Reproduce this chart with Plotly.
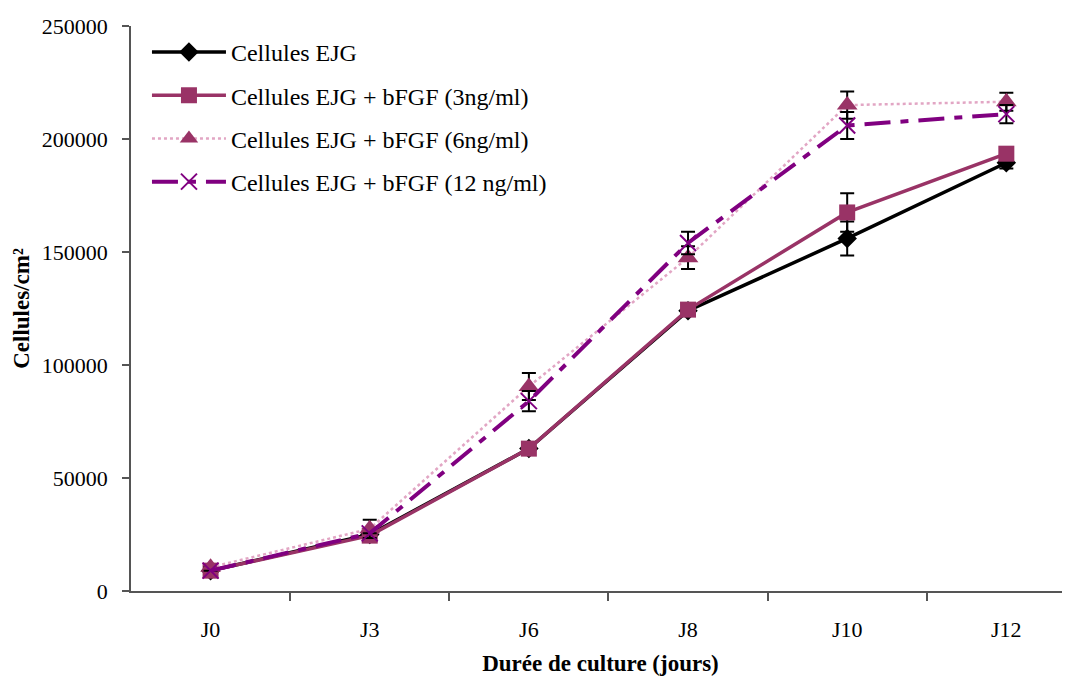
import plotly.graph_objects as go

categories = ["J0", "J3", "J6", "J8", "J10", "J12"]
ejg = [9000, 25000, 63000, 124000, 156000, 189500]
ejg_err = [0, 0, 0, 0, 7500, 2500]
fgf3 = [9000, 24500, 63000, 124500, 167500, 193500]
fgf3_err = [0, 0, 0, 0, 8500, 0]
fgf6 = [10500, 27500, 90500, 147500, 215000, 216500]
fgf6_err = [0, 4000, 6000, 5000, 6000, 4000]
fgf12 = [9000, 25500, 84000, 154000, 206000, 211000]
fgf12_err = [0, 0, 4500, 5000, 6000, 4000]

xs = list(range(len(categories)))
font_family = "Liberation Serif, Times New Roman, serif"

def eb(arr):
    return dict(type="data", array=arr, visible=True, color="black", thickness=2, width=7)

fig = go.Figure()
fig.add_trace(go.Scatter(x=xs, y=ejg, name="Cellules EJG", mode="lines+markers",
                         line=dict(color="black", width=3.5),
                         marker=dict(symbol="diamond", size=15, color="black"),
                         error_y=eb(ejg_err), legendgroup="a"))
fig.add_trace(go.Scatter(x=xs, y=fgf3, name="Cellules EJG + bFGF (3ng/ml)", mode="lines+markers",
                         line=dict(color="#993366", width=3.5),
                         marker=dict(symbol="square", size=16, color="#993366"),
                         error_y=eb(fgf3_err), legendgroup="b"))
fig.add_trace(go.Scatter(x=xs, y=fgf6, name="Cellules EJG + bFGF (6ng/ml)", mode="lines+markers",
                         line=dict(color="#e2a6c4", width=2.5, dash="dot"),
                         marker=dict(symbol="triangle-up", size=18, color="#993366"),
                         error_y=eb(fgf6_err), legendgroup="c"))
fig.add_trace(go.Scatter(x=xs, y=fgf12, name="Cellules EJG + bFGF (12 ng/ml)", mode="lines+markers",
                         line=dict(color="#800080", width=4, dash="26px,10px,8px,10px"),
                         marker=dict(symbol="x-thin-open", size=16, color="#800080",
                                     line=dict(color="#800080", width=2)),
                         error_y=eb(fgf12_err), legendgroup="d"))

fig.update_layout(
    width=1070, height=679,
    margin=dict(l=123, r=8, t=18, b=96),
    paper_bgcolor="white", plot_bgcolor="white",
    font=dict(family=font_family, size=22, color="black"),
    showlegend=True,
    legend=dict(x=0.017, y=0.993, xanchor="left", yanchor="top",
                bgcolor="rgba(0,0,0,0)", font=dict(size=24, family=font_family),
                tracegroupgap=9, itemwidth=74),
    xaxis=dict(range=[-0.5, 5.40], tickvals=xs, ticktext=categories, automargin=False,
               showline=True, linecolor="#555", linewidth=1.5, showgrid=False,
               zeroline=False, ticks="", tickfont=dict(size=22), ticklabelstandoff=18,
               minor=dict(tickvals=[0.5, 1.5, 2.5, 3.5, 4.5], ticks="outside",
                          ticklen=8, tickcolor="#555", tickwidth=1.5),
               title=dict(text="<b>Durée de culture (jours)</b>", font=dict(size=23), standoff=14)),
    yaxis=dict(range=[0, 250000], tickvals=[0, 50000, 100000, 150000, 200000, 250000],
               ticktext=["0", "50000", "100000", "150000", "200000", "250000"], automargin=False,
               showline=True, linecolor="#555", linewidth=1.5, showgrid=False,
               zeroline=False, ticks="outside", ticklen=7, tickcolor="#555", tickwidth=1.5,
               tickfont=dict(size=22), ticklabelstandoff=10,
               title=dict(text="<b>Cellules/cm²</b>", font=dict(size=23), standoff=6)),
)

fig.write_html("out.html")
